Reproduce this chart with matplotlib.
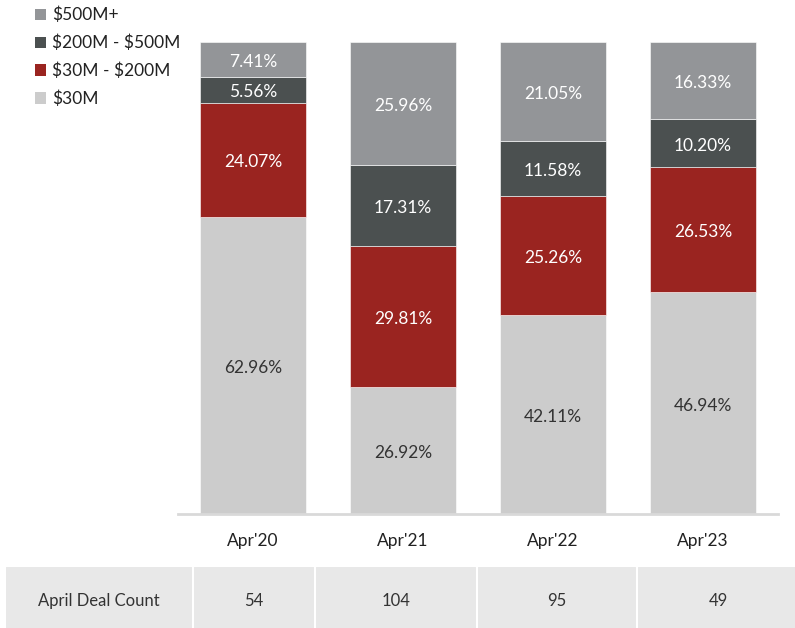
import matplotlib
matplotlib.use("Agg")
import matplotlib.pyplot as plt
from matplotlib.patches import Rectangle, Patch

plt.rcParams['font.family'] = ['Lato', 'DejaVu Sans']
plt.rcParams['text.parse_math'] = False

categories = ["Apr'20", "Apr'21", "Apr'22", "Apr'23"]
series_names = ["$30M", "$30M - $200M", "$200M - $500M", "$500M+"]
under_30 = [62.96, 26.92, 42.11, 46.94]
m30_200 = [24.07, 29.81, 25.26, 26.53]
m200_500 = [5.56, 17.31, 11.58, 10.20]
m500_plus = [7.41, 25.96, 21.05, 16.33]
deal_counts = [54, 104, 95, 49]
row_label = "April Deal Count"

colors = ["#cccccc", "#9a2420", "#4b5050", "#939598"]
text_colors = ["#333333", "white", "white", "white"]

fig = plt.figure(figsize=(7.95, 6.28), dpi=100)
ax = fig.add_axes([178/795, 1-514/628, 600/795, 472/628])

series = [under_30, m30_200, m200_500, m500_plus]
x = list(range(len(categories)))
bottom = [0.0]*len(categories)
handles = []
for vals, c, tc, name in zip(series, colors, text_colors, series_names):
    ax.bar(x, vals, width=0.713, bottom=bottom, color=c,
           edgecolor="white", linewidth=0.4)
    for xi, v, b in zip(x, vals, bottom):
        ax.text(xi, b + v/2 - 0.5, f"{v:.2f}%", ha="center", va="center",
                color=tc, fontsize=12.5)
    bottom = [b + v for b, v in zip(bottom, vals)]
    handles.append(Patch(facecolor=c, edgecolor="none", label=name))

ax.set_xlim(-0.5, 3.5)
ax.set_ylim(0, 100)
for s in ["top", "right", "left"]:
    ax.spines[s].set_visible(False)
ax.spines["bottom"].set_color("#d9d9d9")
ax.spines["bottom"].set_linewidth(2)
ax.set_yticks([])
ax.set_xticks(x)
ax.set_xticklabels(categories, fontsize=12.5, color="#222222")
ax.tick_params(axis="x", length=0, pad=14)

leg = fig.legend(handles=handles[::-1], loc="upper left",
                 bbox_to_anchor=(0.035, 1.0), frameon=False, fontsize=12.5,
                 handlelength=0.65, handleheight=0.65, handletextpad=0.35,
                 labelspacing=0.66, borderaxespad=0)
for t in leg.get_texts():
    t.set_color("#222222")

# Table row
ty0, ty1 = 1-636/628, 1-566/628
bounds = [5, 193, 315, 477, 637, 800]
texts = [row_label] + [str(v) for v in deal_counts]
for i in range(len(bounds)-1):
    x0, x1 = bounds[i]/795, bounds[i+1]/795
    fig.add_artist(Rectangle((x0, ty0), x1-x0, ty1-ty0, transform=fig.transFigure,
                             facecolor="#e8e8e8", edgecolor="white", linewidth=1.5))
    fig.text((x0+x1)/2, 1-601/628, texts[i], ha="center", va="center",
             fontsize=12, color="#333333")

fig.savefig("out.png", dpi=100)
